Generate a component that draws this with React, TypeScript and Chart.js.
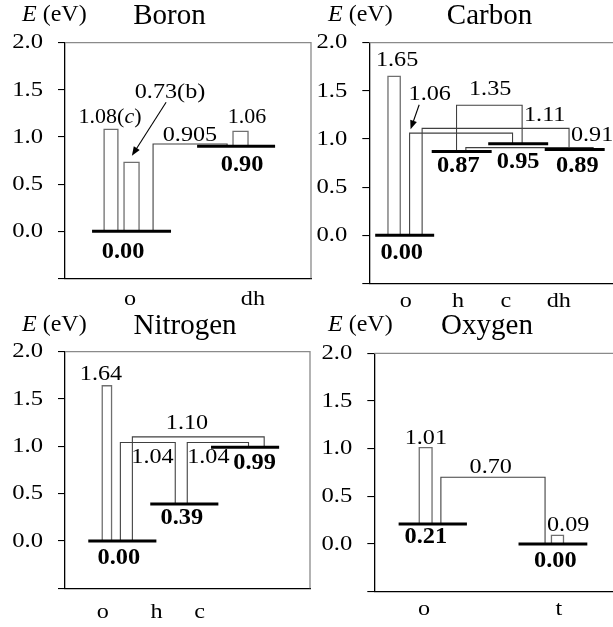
import { useEffect, useRef } from 'react';
import { Chart, registerables } from 'chart.js';

Chart.register(...registerables);

const SERIF = '"Liberation Serif", "Times New Roman", serif';
// numbers inside the plot were stretched sideways a little in the source figure
const STRETCH = 1.1;

// Boron
const boronSites = ['o', 'dh'];
const boronSiteE = [0.0, 0.9];
const boronHopE = [1.08, 0.73, 1.06];
const boronHopLabels = ['1.08(*c*)', '0.73(b)', '1.06'];
const boronBarrierE = [0.905]; // o -> dh

// Carbon
const carbonSites = ['o', 'h', 'c', 'dh'];
const carbonSiteE = [0.0, 0.87, 0.95, 0.89];
const carbonHopE = [1.65];
const carbonBarrierE = [1.06, 1.11, 1.35, 0.91]; // o-c, o-dh, h-c, h-dh

// Nitrogen
const nitrogenSites = ['o', 'h', 'c'];
const nitrogenSiteE = [0.0, 0.39, 0.99];
const nitrogenHopE = [1.64];
const nitrogenBarrierE = [1.04, 1.1, 1.04]; // o-h, o-c, h-c

// Oxygen
const oxygenSites = ['o', 't'];
const oxygenSiteE = [0.21, 0.0];
const oxygenHopE = [1.01, 0.09];
const oxygenBarrierE = [0.7]; // o-t

const yTicks = [-0.5, 0, 0.5, 1, 1.5, 2];

type Pt = [number, number];
interface LevelLayout { x0: number; x1: number; label: Pt }
interface HopLayout { site: number; x0: number; x1: number; label: Pt; size?: number; arrow?: [Pt, Pt] }
interface BarrierLayout { from: number; to: number; xa: number; xb: number; label: Pt; lift?: number; size?: number; arrow?: [Pt, Pt] }

interface PanelProps {
  title: string;
  sites: string[];
  siteE: number[];
  hopE: number[];
  hopLabels?: string[];
  barrierE: number[];
  siteX: number[];
  levels: LevelLayout[];
  hops: HopLayout[];
  barriers: BarrierLayout[];
  box: { left: number; top: number; width: number; height: number };
  area: { l: number; t: number; r: number; b: number };
  titleX: number;
  catBase: number;
}

function fmt(v: number) {
  const c = v * 100;
  return Math.abs(c - Math.round(c)) < 1e-6 ? v.toFixed(2) : String(v);
}

// text with *italic* segments; align is 'center' | 'left' | 'right'
function drawRich(
  ctx: CanvasRenderingContext2D,
  text: string,
  x: number,
  y: number,
  size: number,
  opts: { bold?: boolean; align?: string; sx?: number } = {},
) {
  const { bold = false, align = 'center', sx = 1 } = opts;
  const parts = text.split('*');
  const fontOf = (it: boolean) => `${it ? 'italic ' : ''}${bold ? 'bold ' : ''}${size}px ${SERIF}`;
  let total = 0;
  const widths = parts.map((t, i) => {
    ctx.font = fontOf(i % 2 === 1);
    const w = ctx.measureText(t).width;
    total += w;
    return w;
  });
  ctx.save();
  ctx.translate(x, y);
  ctx.scale(sx, 1);
  let xx = align === 'center' ? -total / 2 : align === 'right' ? -total : 0;
  ctx.textAlign = 'left';
  parts.forEach((t, i) => {
    ctx.font = fontOf(i % 2 === 1);
    ctx.fillText(t, xx, 0);
    xx += widths[i];
  });
  ctx.restore();
}

function drawArrow(ctx: CanvasRenderingContext2D, x1: number, y1: number, x2: number, y2: number) {
  const a = Math.atan2(y2 - y1, x2 - x1);
  const L = 9, W = 3.5;
  const c = Math.cos(a), s = Math.sin(a);
  ctx.beginPath();
  ctx.moveTo(x1, y1);
  ctx.lineTo(x2 - L * 0.8 * c, y2 - L * 0.8 * s);
  ctx.stroke();
  ctx.beginPath();
  ctx.moveTo(x2, y2);
  ctx.lineTo(x2 - L * c + W * s, y2 - L * s - W * c);
  ctx.lineTo(x2 - L * c - W * s, y2 - L * s + W * c);
  ctx.closePath();
  ctx.fill();
}

function EnergyPanel(p: PanelProps) {
  const canvasRef = useRef<HTMLCanvasElement>(null);

  useEffect(() => {
    if (!canvasRef.current) return;
    const { box, area } = p;
    const common = { pointRadius: 0, pointHoverRadius: 0, fill: false, tension: 0, borderCapStyle: 'butt', borderJoinStyle: 'miter' };
    const datasets: any[] = [];

    p.levels.forEach((lv, i) => {
      datasets.push({
        ...common,
        data: [{ x: lv.x0, y: p.siteE[i] }, { x: lv.x1, y: p.siteE[i] }],
        borderColor: '#000',
        borderWidth: 3,
        order: 0,
      });
    });
    p.hops.forEach((h, i) => {
      const base = p.siteE[h.site];
      const top = p.hopE[i];
      datasets.push({
        ...common,
        data: [{ x: h.x0, y: base }, { x: h.x0, y: top }, { x: h.x1, y: top }, { x: h.x1, y: base }],
        borderColor: '#6f6f6f',
        borderWidth: 1.3,
        order: 2,
      });
    });
    p.barriers.forEach((b, i) => {
      const top = p.barrierE[i] + (b.lift ?? 0);
      datasets.push({
        ...common,
        data: [
          { x: b.xa, y: p.siteE[b.from] },
          { x: b.xa, y: top },
          { x: b.xb, y: top },
          { x: b.xb, y: p.siteE[b.to] },
        ],
        borderColor: '#404040',
        borderWidth: 1.1,
        order: 1,
      });
    });

    const annotations = {
      id: 'annotations',
      afterDraw(chart: any) {
        const { ctx, chartArea: a, scales } = chart;
        const xs = scales.x;
        const ys = scales.y;
        const px = (pt: Pt): Pt => [xs.getPixelForValue(pt[0]), ys.getPixelForValue(pt[1])];
        ctx.save();
        // light top/right frame
        ctx.strokeStyle = '#8a8a8a';
        ctx.lineWidth = 1.3;
        ctx.beginPath();
        ctx.moveTo(a.left, a.top);
        ctx.lineTo(a.right, a.top);
        ctx.lineTo(a.right, a.bottom);
        ctx.stroke();

        ctx.fillStyle = '#000';
        ctx.strokeStyle = '#000';
        ctx.lineWidth = 1.1;
        ctx.textBaseline = 'middle';

        // y tick labels
        yTicks.forEach((v) => {
          if (v < 0) return;
          drawRich(ctx, v.toFixed(1), a.left - 22, ys.getPixelForValue(v), 22, { align: 'right', sx: 1.12 });
        });

        p.levels.forEach((lv, i) => {
          const [lx, ly] = px(lv.label);
          drawRich(ctx, fmt(p.siteE[i]), lx, ly, 23, { bold: true, sx: 1.06 });
        });
        p.hops.forEach((h, i) => {
          const txt = p.hopLabels ? p.hopLabels[i] : fmt(p.hopE[i]);
          const [lx, ly] = px(h.label);
          drawRich(ctx, txt, lx, ly, h.size ?? 22, { sx: STRETCH });
          if (h.arrow) {
            const [s, e] = [px(h.arrow[0]), px(h.arrow[1])];
            drawArrow(ctx, s[0], s[1], e[0], e[1]);
          }
        });
        p.barriers.forEach((b, i) => {
          const [lx, ly] = px(b.label);
          drawRich(ctx, fmt(p.barrierE[i]), lx, ly, b.size ?? 22, { sx: STRETCH });
          if (b.arrow) {
            const [s, e] = [px(b.arrow[0]), px(b.arrow[1])];
            drawArrow(ctx, s[0], s[1], e[0], e[1]);
          }
        });

        // category labels under the axis
        ctx.textBaseline = 'alphabetic';
        p.sites.forEach((s, i) => drawRich(ctx, s, xs.getPixelForValue(p.siteX[i]), p.catBase, 22, { sx: STRETCH }));

        // titles
        ctx.textAlign = 'center';
        ctx.font = `29px ${SERIF}`;
        ctx.fillText(p.title, p.titleX, 24);
        drawRich(ctx, '*E* (eV)', 22, 21, 24, { align: 'left' });
        ctx.restore();
      },
    };

    const chart = new Chart(canvasRef.current, {
      type: 'line',
      data: { datasets },
      plugins: [annotations],
      options: {
        responsive: false,
        animation: false,
        events: [],
        layout: { padding: { top: area.t, right: box.width - area.r, left: 0, bottom: 0 } },
        plugins: { legend: { display: false }, tooltip: { enabled: false } },
        scales: {
          x: {
            type: 'linear',
            min: 0,
            max: 10,
            ticks: { display: false },
            grid: { display: false },
            border: { display: true, color: '#000', width: 1.3 },
            afterFit: (s: any) => {
              s.height = box.height - area.b;
            },
          },
          y: {
            type: 'linear',
            min: yTicks[0],
            max: yTicks[yTicks.length - 1],
            afterBuildTicks: (s: any) => {
              s.ticks = yTicks.map((v) => ({ value: v }));
            },
            ticks: { display: false },
            grid: { display: true, drawOnChartArea: false, drawTicks: true, tickLength: 7, color: '#000', lineWidth: 1.1 },
            border: { display: true, color: '#000', width: 1.3 },
            afterFit: (s: any) => {
              s.width = area.l;
            },
          },
        },
      } as any,
    });

    return () => chart.destroy();
  }, []);

  const { box } = p;
  return (
    <canvas
      ref={canvasRef}
      width={box.width}
      height={box.height}
      style={{ position: 'absolute', left: box.left, top: box.top, width: box.width, height: box.height }}
    />
  );
}

export default function App() {
  return (
    <div style={{ position: 'fixed', left: 0, top: 0, width: 613, height: 627, overflow: 'hidden', background: '#fff' }}>
      <EnergyPanel
        title="Boron"
        sites={boronSites}
        siteE={boronSiteE}
        hopE={boronHopE}
        hopLabels={boronHopLabels}
        barrierE={boronBarrierE}
        siteX={[2.64, 7.64]}
        levels={[
          { x0: 1.1, x1: 4.31, label: [2.36, -0.22] },
          { x0: 5.37, x1: 8.54, label: [7.2, 0.7] },
        ]}
        hops={[
          { site: 0, x0: 1.59, x1: 2.15, label: [1.83, 1.2], size: 20 },
          { site: 0, x0: 2.4, x1: 3.01, label: [4.27, 1.474], arrow: [[4.11, 1.368], [2.72, 0.8]] },
          { site: 1, x0: 6.83, x1: 7.44, label: [7.4, 1.2], size: 20 },
        ]}
        barriers={[{ from: 0, to: 1, xa: 3.58, xb: 6.59, lift: 0.02, label: [5.08, 1.02] }]}
        box={{ left: 0, top: 0, width: 315, height: 310 }}
        area={{ l: 65, t: 42.7, r: 311, b: 278.3 }}
        titleX={169.5}
        catBase={305}
      />
      <EnergyPanel
        title="Carbon"
        sites={carbonSites}
        siteE={carbonSiteE}
        hopE={carbonHopE}
        barrierE={carbonBarrierE}
        siteX={[1.49, 3.61, 5.56, 7.71]}
        levels={[
          { x0: 0.24, x1: 2.64, label: [1.32, -0.185] },
          { x0: 2.54, x1: 4.98, label: [3.62, 0.72] },
          { x0: 4.84, x1: 7.28, label: [6.06, 0.756] },
          { x0: 7.14, x1: 9.58, label: [8.47, 0.72] },
        ]}
        hops={[{ site: 0, x0: 0.76, x1: 1.26, label: [1.13, 1.82] }]}
        barriers={[
          { from: 0, to: 2, xa: 1.64, xb: 5.83, label: [2.46, 1.46], arrow: [[2.03, 1.355], [1.68, 1.1]] },
          { from: 0, to: 3, xa: 2.15, xb: 8.13, label: [7.14, 1.25] },
          { from: 1, to: 2, xa: 3.55, xb: 6.22, label: [4.92, 1.52] },
          { from: 1, to: 3, xa: 3.93, xb: 9.11, label: [9.07, 1.04] },
        ]}
        box={{ left: 306, top: 0, width: 320, height: 310 }}
        area={{ l: 63.3, t: 42.7, r: 309, b: 283.3 }}
        titleX={183.5}
        catBase={307}
      />
      <EnergyPanel
        title="Nitrogen"
        sites={nitrogenSites}
        siteE={nitrogenSiteE}
        hopE={nitrogenHopE}
        barrierE={nitrogenBarrierE}
        siteX={[1.54, 3.74, 5.49]}
        levels={[
          { x0: 0.95, x1: 3.73, label: [2.2, -0.18] },
          { x0: 3.48, x1: 6.26, label: [4.77, 0.24] },
          { x0: 5.96, x1: 8.74, label: [7.74, 0.825] },
        ]}
        hops={[{ site: 0, x0: 1.52, x1: 1.9, label: [1.47, 1.76] }]}
        barriers={[
          { from: 0, to: 1, xa: 2.26, xb: 4.5, label: [3.57, 0.89] },
          { from: 0, to: 2, xa: 2.75, xb: 8.13, label: [4.98, 1.24] },
          { from: 1, to: 2, xa: 4.99, xb: 7.49, label: [5.85, 0.89] },
        ]}
        box={{ left: 0, top: 310, width: 315, height: 317 }}
        area={{ l: 65, t: 41.7, r: 310, b: 278.3 }}
        titleX={185}
        catBase={308}
      />
      <EnergyPanel
        title="Oxygen"
        sites={oxygenSites}
        siteE={oxygenSiteE}
        hopE={oxygenHopE}
        barrierE={oxygenBarrierE}
        siteX={[2.02, 7.51]}
        levels={[
          { x0: 0.99, x1: 3.77, label: [2.1, 0.075] },
          { x0: 5.87, x1: 8.67, label: [7.37, -0.176] },
        ]}
        hops={[
          { site: 0, x0: 1.83, x1: 2.35, label: [2.1, 1.105] },
          { site: 1, x0: 7.21, x1: 7.7, label: [7.89, 0.193] },
        ]}
        barriers={[{ from: 0, to: 1, xa: 2.71, xb: 6.95, label: [4.74, 0.806] }]}
        box={{ left: 306, top: 310, width: 320, height: 317 }}
        area={{ l: 68.3, t: 43.3, r: 314, b: 281.7 }}
        titleX={181}
        catBase={305}
      />
    </div>
  );
}
